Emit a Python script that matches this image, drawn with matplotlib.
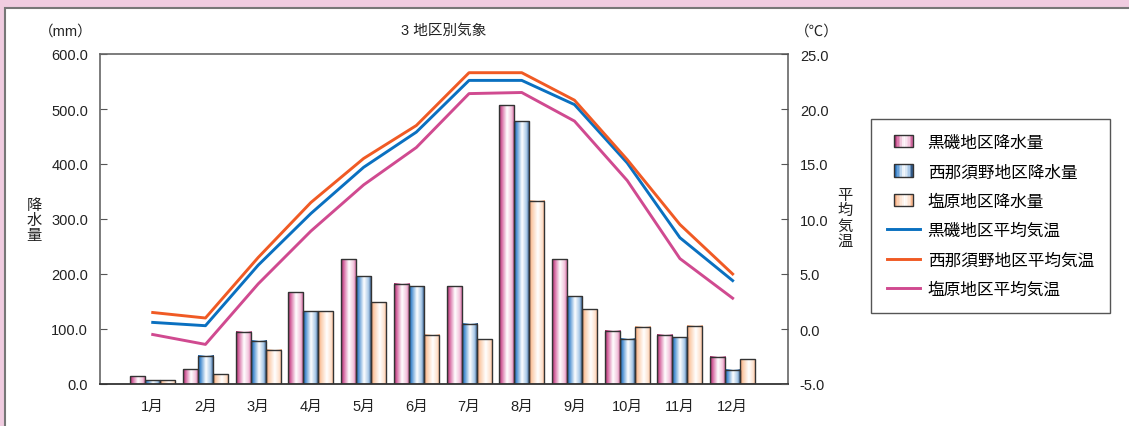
import numpy as np
import matplotlib
matplotlib.use('Agg')
import matplotlib.pyplot as plt
from matplotlib.colors import LinearSegmentedColormap
from matplotlib.patches import Rectangle
from matplotlib.lines import Line2D
from matplotlib.legend_handler import HandlerBase

plt.rcParams['font.family'] = ['Liberation Sans', 'Noto Sans CJK JP', 'DejaVu Sans']

# data
months = ['1月', '2月', '3月', '4月', '5月', '6月', '7月', '8月', '9月', '10月', '11月', '12月']
rain_kuroiso = [14, 27, 95, 167, 227, 182, 178, 507, 227, 97, 90, 50]
rain_nishinasuno = [7, 51, 79, 132, 196, 178, 110, 478, 160, 82, 85, 26]
rain_shiobara = [7, 18, 62, 132, 149, 90, 81, 333, 136, 104, 106, 45]
temp_kuroiso = [0.6, 0.3, 5.8, 10.5, 14.7, 17.9, 22.6, 22.6, 20.4, 15.1, 8.3, 4.4]
temp_nishinasuno = [1.5, 1.0, 6.5, 11.5, 15.5, 18.5, 23.3, 23.3, 20.8, 15.4, 9.5, 5.0]
temp_shiobara = [-0.5, -1.4, 4.1, 8.9, 13.1, 16.5, 21.4, 21.5, 18.9, 13.5, 6.4, 2.8]

rain_labels = ['黒磯地区降水量', '西那須野地区降水量', '塩原地区降水量']
temp_labels = ['黒磯地区平均気温', '西那須野地区平均気温', '塩原地区平均気温']

# bar gradients (left edge -> right edge)
grad_pink = LinearSegmentedColormap.from_list('p', [(0, '#8c2a5c'), (0.15, '#d4609c'), (0.5, '#ffffff'),
                                                    (0.8, '#f2c4dc'), (1, '#c85090')])
grad_blue = LinearSegmentedColormap.from_list('b', [(0, '#1a64b0'), (0.15, '#4a8ed0'), (0.5, '#ffffff'),
                                                    (0.8, '#a8c8e8'), (1, '#153f70')])
grad_orange = LinearSegmentedColormap.from_list('o', [(0, '#f4a070'), (0.2, '#fbcfb0'), (0.55, '#ffffff'),
                                                      (0.85, '#fde0cc'), (1, '#f6a87a')])
line_colors = ['#0a70c0', '#f05a24', '#d04a90']

fig = plt.figure(figsize=(11.29, 4.27), dpi=100)
fig.patch.set_facecolor('#f0cce0')
fig.patches.append(Rectangle((5 / 1129, -0.05), 1.1, 1 - 9 / 427 + 0.05, transform=fig.transFigure,
                             facecolor='white', edgecolor='#777777', lw=1.5, zorder=-10))

ax = fig.add_axes([100 / 1129, 42 / 427, 688 / 1129, 330 / 427])
ax.set_facecolor('none')

x = np.arange(1, 13)
w = 0.285
gx = np.linspace(0, 1, 64)[np.newaxis, :]
for off, vals, cm in [(-w, rain_kuroiso, grad_pink), (0, rain_nishinasuno, grad_blue), (w, rain_shiobara, grad_orange)]:
    bars = ax.bar(x + off, vals, w, facecolor='none', edgecolor='#333333', lw=1.0, zorder=3)
    for b in bars:
        ax.imshow(gx, cmap=cm, extent=[b.get_x(), b.get_x() + b.get_width(), 0, b.get_height()],
                  aspect='auto', interpolation='bilinear', zorder=2)

ax.set_xlim(0, 13.05)
ax.set_ylim(0, 600)
ax.set_yticks(np.arange(0, 601, 100))
ax.set_yticklabels(['%.1f' % v for v in np.arange(0, 601, 100)])
ax.set_xticks(x)
ax.set_xticklabels(months)
ax.tick_params(axis='x', length=0, pad=11, labelsize=10.5, colors='#222222')
ax.tick_params(axis='y', direction='in', length=5, pad=8.5, labelsize=10.5, colors='#555555', labelcolor='#222222')
for s in ['left', 'right', 'top']:
    ax.spines[s].set_color('#666666')
    ax.spines[s].set_linewidth(1.2)
ax.spines['bottom'].set_color('#333333')
ax.spines['bottom'].set_linewidth(1.3)

ax2 = ax.twinx()
for vals, c in zip([temp_kuroiso, temp_nishinasuno, temp_shiobara], line_colors):
    ax2.plot(x, vals, color=c, lw=2.1, zorder=4)
ax2.set_ylim(-5, 25)
ax2.set_yticks(np.arange(-5, 26, 5))
ax2.set_yticklabels(['%.1f' % v for v in np.arange(-5, 26, 5)])
ax2.tick_params(axis='y', direction='in', length=5, pad=8.5, labelsize=10.5, colors='#555555', labelcolor='#222222')
for s in ax2.spines.values():
    s.set_visible(False)

# texts
fig.text(444 / 1129, 1 - 31 / 427, '3 地区別気象', ha='center', va='center', fontsize=10.5, color='#222222')
fig.text(66 / 1129, 1 - 32 / 427, '（mm）', ha='center', va='center', fontsize=10.5, color='#222222')
fig.text(817 / 1129, 1 - 32 / 427, '（℃）', ha='center', va='center', fontsize=10.5, color='#222222')
fig.text(34 / 1129, 1 - 221 / 427, '降\n水\n量', ha='center', va='center', fontsize=11,
         linespacing=1.12, color='#222222')
fig.text(845 / 1129, 1 - 219 / 427, '平\n均\n気\n温', ha='center', va='center', fontsize=11,
         linespacing=1.12, color='#222222')


class GradHandler(HandlerBase):
    def __init__(self, cmap):
        super().__init__()
        self.cmap = cmap

    def create_artists(self, legend, orig_handle, xdescent, ydescent, width, height, fontsize, trans):
        pw, ph = 13, height * 1.05
        x0 = -xdescent + (width - pw) / 2
        y0 = -ydescent + (height - ph) / 2
        n = 12
        arts = []
        for i in range(n):
            r = Rectangle((x0 + pw * i / n, y0), pw / n + 0.2, ph, facecolor=self.cmap((i + 0.5) / n),
                          edgecolor='none', transform=trans)
            arts.append(r)
        arts.append(Rectangle((x0, y0), pw, ph, facecolor='none', edgecolor='#333333', lw=1.0, transform=trans))
        return arts


hp = [Rectangle((0, 0), 1, 1) for _ in range(3)]
hl = [Line2D([], [], color=c, lw=2.1) for c in line_colors]
handler_map = {hp[0]: GradHandler(grad_pink), hp[1]: GradHandler(grad_blue), hp[2]: GradHandler(grad_orange)}
leg = fig.legend(hp + hl, rain_labels + temp_labels, handler_map=handler_map,
                 loc='upper left', bbox_to_anchor=(871 / 1129, 1 - 120 / 427), fontsize=12,
                 frameon=True, fancybox=False, edgecolor='#555555', framealpha=1,
                 handlelength=2.0, handletextpad=0.45, labelspacing=0.85, borderpad=0.95, borderaxespad=0)
leg.get_frame().set_linewidth(1.0)

fig.savefig('out.png', dpi=100, facecolor=fig.get_facecolor())
